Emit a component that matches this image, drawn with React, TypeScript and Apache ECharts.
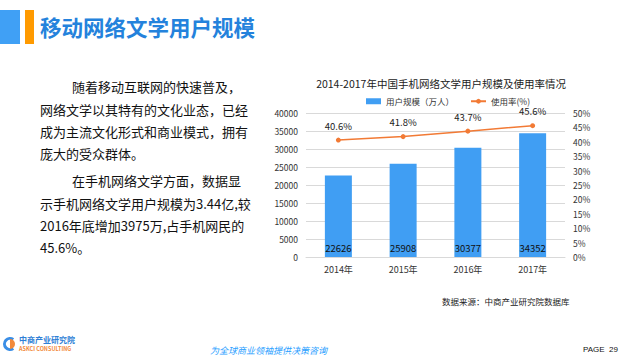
import React, { useEffect, useRef } from "react";
import * as echarts from "echarts";

const years = ["2014年", "2015年", "2016年", "2017年"];
const users = [22626, 25908, 30377, 34352];
const rate = [40.6, 41.8, 43.7, 45.6];
const pageTitle = "移动网络文学用户规模";
const chartTitle = "2014-2017年中国手机网络文学用户规模及使用率情况";
const seriesNames = ["用户规模（万人）", "使用率(%)"];
const sourceText = "数据来源：中商产业研究院数据库";
const bodyLines = [
  "随着移动互联网的快速普及，",
  "网络文学以其特有的文化业态，已经",
  "成为主流文化形式和商业模式，拥有",
  "庞大的受众群体。",
  "在手机网络文学方面，数据显",
  "示手机网络文学用户规模为3.44亿,较",
  "2016年底增加3975万,占手机网民的",
  "45.6%。",
];
const indentLines = [0, 4];
const slogan = "为全球商业领袖提供决策咨询";
const pageLabel = "PAGE  29";

const FONT = "'Noto Sans CJK SC', 'Noto Sans', sans-serif";

export default function App() {
  const ref = useRef<HTMLDivElement>(null);
  useEffect(() => {
    const chart = echarts.init(ref.current!, null, { renderer: "svg" });
    const lineY = [88, 111, 133, 155, 182, 205, 227, 249];
    const textEls: any[] = bodyLines.map((t, i) => ({
      type: "text",
      left: indentLines.includes(i) ? 72 : 40,
      top: lineY[i] - 8,
      style: { text: t, fontSize: 13, fill: "#111", fontFamily: FONT },
    }));
    chart.setOption({
      animation: false,
      textStyle: { fontFamily: FONT },
      title: {
        text: chartTitle,
        left: 436,
        textAlign: "center",
        top: 73,
        textStyle: { fontSize: 10.5, fontWeight: "normal", color: "#222" },
      },
      legend: {
        top: 92,
        left: 361,
        itemWidth: 15,
        itemHeight: 6,
        itemGap: 16,
        textStyle: { fontSize: 8.5, color: "#333" },
        data: [
          { name: seriesNames[0], icon: "rect" },
          { name: seriesNames[1] },
        ],
      },
      grid: { left: 306, right: 60, top: 113, bottom: 103 },
      xAxis: {
        type: "category",
        data: years,
        axisLine: { lineStyle: { color: "#d9d9d9" } },
        axisTick: { show: false },
        axisLabel: { fontSize: 9, color: "#333", margin: 8 },
      },
      yAxis: [
        {
          type: "value",
          min: 0,
          max: 40000,
          interval: 5000,
          axisLine: { show: false },
          axisTick: { show: false },
          splitLine: { lineStyle: { color: "#d9d9d9" } },
          axisLabel: { fontSize: 8.5, color: "#333", margin: 8, formatter: (v: number) => String(v) },
        },
        {
          type: "value",
          min: 0,
          max: 50,
          interval: 5,
          axisLine: { show: false },
          axisTick: { show: false },
          splitLine: { show: false },
          axisLabel: { fontSize: 8.5, color: "#333", margin: 8, formatter: "{value}%" },
        },
      ],
      series: [
        {
          name: seriesNames[0],
          type: "bar",
          data: users,
          barWidth: 27,
          itemStyle: { color: "#409ef3" },
          label: {
            show: true,
            position: "insideBottom",
            distance: 4,
            fontSize: 9.5,
            color: "#111",
          },
        },
        {
          name: seriesNames[1],
          type: "line",
          yAxisIndex: 1,
          data: rate,
          symbol: "circle",
          symbolSize: 5,
          lineStyle: { color: "#f27a35", width: 1.5 },
          itemStyle: { color: "#f27a35" },
          label: {
            show: true,
            position: "top",
            distance: 7,
            fontSize: 9.5,
            color: "#222",
            formatter: (p: any) => p.value.toFixed(1) + "%",
          },
        },
      ],
      graphic: [
        { type: "rect", shape: { x: 0, y: 10, width: 20, height: 34 }, style: { fill: "#40a0f5" } },
        { type: "rect", shape: { x: 25, y: 10, width: 9, height: 34 }, style: { fill: "#ff9a00" } },
        {
          type: "text",
          left: 40,
          top: 16,
          style: { text: pageTitle, fontSize: 21.5, fontWeight: "bold", fill: "#2482dc", fontFamily: FONT },
        },
        ...textEls,
        {
          type: "text",
          left: 442,
          top: 297,
          style: { text: sourceText, fontSize: 8.5, fill: "#222", fontFamily: FONT },
        },
        {
          type: "sector",
          shape: { cx: 10, cy: 344, r0: 4, r: 7, startAngle: Math.PI * 0.3, endAngle: Math.PI * 1.7 },
          style: { fill: "#3a8ee6" },
        },
        {
          type: "sector",
          shape: { cx: 10, cy: 344, r0: 0, r: 5, startAngle: -Math.PI / 2, endAngle: Math.PI / 2 },
          style: { fill: "#f28a3a" },
        },
        {
          type: "text",
          left: 19,
          top: 335,
          style: { text: "中商产业研究院", fontSize: 8, fontWeight: "bold", fill: "#2f7fd6", fontFamily: FONT },
        },
        {
          type: "text",
          left: 19,
          top: 346,
          style: { text: "ASKCI CONSULTING", fontSize: 5.5, fontWeight: "bold", fill: "#f28a3a", fontFamily: FONT },
        },
        {
          type: "text",
          left: 210,
          top: 346,
          style: { text: slogan, fontSize: 9, fontStyle: "italic", fill: "#2aa0ff", fontFamily: FONT },
        },
        {
          type: "text",
          left: 583,
          top: 345,
          style: { text: pageLabel, fontSize: 8, fill: "#111", fontFamily: "'Liberation Sans', sans-serif" },
        },
      ],
    });
    return () => chart.dispose();
  }, []);
  return (
    <div
      ref={ref}
      style={{ position: "fixed", left: 0, top: 0, width: 625, height: 360, background: "#fff" }}
    />
  );
}
